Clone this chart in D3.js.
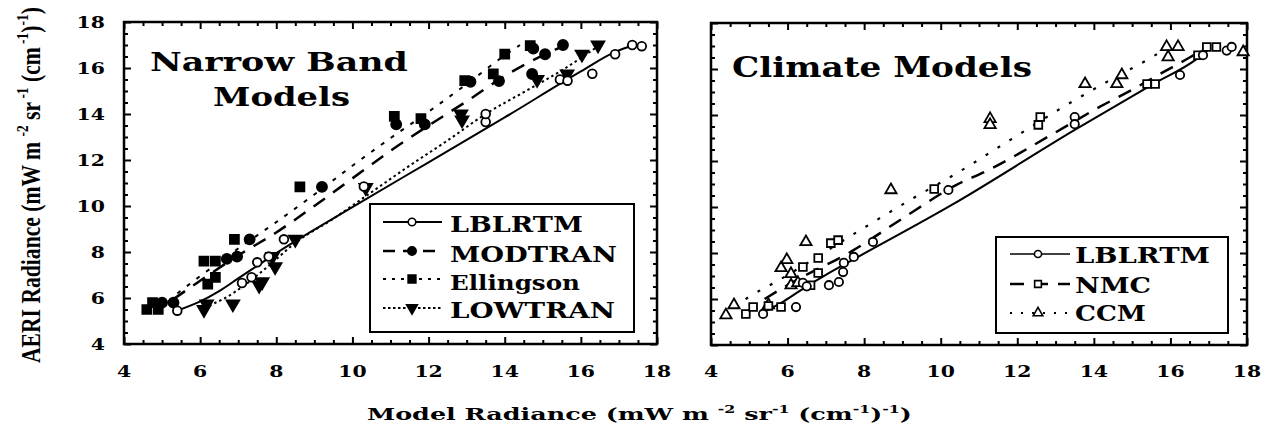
<!DOCTYPE html>
<html><head><meta charset="utf-8">
<script src="https://cdn.jsdelivr.net/npm/d3@7"></script>
<style>
html,body{margin:0;padding:0;background:#fff;}
svg{display:block;}
text{font-family:"DejaVu Serif",serif;font-weight:bold;fill:#000;}
</style></head>
<body>
<svg id="c" width="1278" height="440"></svg>
<script>
// ---------- DATA ----------
const xTicks = [4,6,8,10,12,14,16,18];
const yTicks = [4,6,8,10,12,14,16,18];

// Narrow band models panel (points: [model, AERI])
const nbLblrtm = [[5.4,5.45],[7.1,6.65],[7.35,6.9],[7.5,7.55],[7.8,7.8],[8.2,8.55],[10.3,10.85],[13.5,13.65],[13.5,14.0],[15.45,15.5],[15.65,15.45],[16.3,15.75],[16.9,16.6],[17.35,17.0],[17.6,16.95]];
const nbModtran = [[5.0,5.8],[5.3,5.8],[6.7,7.7],[6.97,7.8],[7.3,8.55],[9.2,10.83],[11.15,13.55],[11.9,13.55],[13.1,15.4],[13.85,15.43],[14.72,15.74],[15.06,16.6],[15.53,17.0],[14.75,16.85]];
const nbEllingson = [[4.6,5.5],[4.75,5.8],[4.9,5.5],[6.1,7.6],[6.4,7.6],[6.2,6.6],[6.4,6.9],[6.9,8.55],[8.62,10.83],[11.1,13.9],[11.8,13.8],[12.95,15.45],[13.7,15.74],[14.0,16.6],[14.67,16.97]];
const nbLowtran = [[6.1,5.5],[6.17,5.74],[6.86,5.74],[7.55,6.55],[7.63,6.7],[7.97,7.36],[7.9,7.8],[8.5,8.55],[10.35,10.8],[12.88,13.74],[12.85,14.0],[14.85,15.5],[15.64,15.74],[16.03,16.6],[16.45,17.0]];

const nbLblrtmFit = [[5.4,5.45],[6.0,5.85],[6.5,6.3],[7.0,6.85],[7.5,7.4],[8,7.95],[10,9.95],[12,11.9],[14,13.85],[16,15.85],[16.9,16.7],[17.4,17.0]];
const nbModtranFit = [[5.3,5.95],[6,6.75],[7,7.85],[8,8.85],[9,10.0],[10,11.2],[11,12.4],[12,13.5],[13,14.55],[14,15.65],[15,16.55],[15.6,17.0]];
const nbEllingsonFit = [[5.4,6.2],[6.0,6.95],[7.0,8.15],[8.0,9.3],[9.0,10.5],[10.0,11.75],[11,12.95],[12,14.1],[13,15.3],[14,16.55],[14.4,17.0]];
const nbLowtranFit = [[6.1,5.6],[6.6,5.95],[7.2,6.6],[7.8,7.4],[8.5,8.4],[9.5,9.45],[10.5,10.6],[11.5,11.75],[12.5,12.85],[13.5,14.0],[14.5,14.95],[15.5,15.9],[16.5,17.0]];

// Climate models panel
const cmLblrtm = [[5.36,5.35],[6.22,5.65],[6.4,6.7],[6.5,6.55],[7.08,6.6],[7.34,6.74],[7.45,7.17],[7.47,7.57],[7.73,7.83],[8.23,8.48],[10.2,10.74],[13.5,13.91],[13.5,13.6],[16.25,15.74],[16.85,16.6],[17.47,16.8],[17.6,16.96]];
const cmNmc = [[4.91,5.35],[5.1,5.65],[5.5,5.7],[5.83,5.65],[6.6,6.6],[6.4,7.39],[6.8,7.78],[6.8,7.13],[7.13,8.43],[7.32,8.56],[9.83,10.78],[12.55,13.57],[12.6,13.91],[15.39,15.35],[15.6,15.35],[16.72,16.6],[16.95,16.96],[17.2,16.96]];
const cmCcm = [[4.39,5.3],[4.6,5.74],[5.5,5.74],[5.83,7.35],[5.98,7.7],[6.09,7.09],[6.09,6.6],[6.27,6.7],[6.48,8.48],[8.7,10.74],[11.29,13.83],[11.29,13.57],[13.77,15.35],[14.6,15.35],[14.73,15.74],[15.9,16.96],[16.2,16.96],[15.94,16.52],[17.9,16.74]];

const cmLblrtmFit = [[5.4,5.45],[5.9,5.9],[6.5,6.55],[7.0,7.05],[7.7,7.7],[10.3,10.1],[13.5,13.35],[15.5,15.3],[16.7,16.45],[17.0,16.85]];
const cmNmcFit = [[5.4,6.0],[6.1,6.7],[7.7,8.1],[9.0,9.5],[10.4,10.95],[11.3,11.65],[12.85,13.1],[14.15,14.35],[15.0,15.1],[15.8,15.85],[16.5,16.5],[16.9,16.9]];
const cmCcmFit = [[4.6,5.65],[5.0,6.1],[5.7,6.75],[7.9,9.0],[9.3,10.4],[10.4,11.45],[11.8,12.9],[13.2,14.35],[14.35,15.45],[15.5,16.5],[15.9,16.9]];

const nbNames = ["LBLRTM","MODTRAN","Ellingson","LOWTRAN"];
const cmNames = ["LBLRTM","NMC","CCM"];

// ---------- DRAW ----------
const svg = d3.select("#c");

function fitText(parent, x, y, target, rot, parts, size, family){
  const g = parent.append("g").attr("transform", `translate(${x},${y})` + (rot ? ` rotate(${rot})` : ""));
  const t = g.append("text").attr("x",0).attr("y",0).style("font-size", size+"px");
  if (family) t.style("font-family", family);
  let shift = 0;
  parts.forEach(p => {
    const s = typeof p === "string" ? {t:p, sup:false} : p;
    const ts = t.append("tspan").text(s.t).attr("xml:space","preserve").style("white-space","pre");
    const want = s.sup ? -size*0.42 : 0;
    ts.attr("dy", want - shift);
    shift = want;
    if (s.sup) ts.style("font-size", (size*0.62)+"px");
  });
  const w = t.node().getBBox().width;
  t.attr("transform", `scale(${target/w},1)`);
  return g;
}

function panel(cfg){
  const x = d3.scaleLinear().domain([4,18]).range([cfg.x0,cfg.x1]);
  const y = d3.scaleLinear().domain([4,18]).range([cfg.y1,cfg.y0]);
  const g = svg.append("g");
  const minor = d3.range(4,18.01,0.5).filter(v => v % 2 !== 0);
  const axes = [
    [d3.axisBottom(x), `translate(0,${cfg.y1})`, xTicks, minor],
    [d3.axisTop(x), `translate(0,${cfg.y0})`, xTicks, minor],
    [d3.axisLeft(y), `translate(${cfg.x0},0)`, yTicks, minor],
    [d3.axisRight(y), `translate(${cfg.x1},0)`, yTicks, minor]
  ];
  axes.forEach(([ax, tr, maj, mn]) => {
    const a1 = g.append("g").attr("transform", tr).call(ax.tickValues(maj).tickSize(-7).tickFormat(""));
    a1.select(".domain").remove();
    const a2 = g.append("g").attr("transform", tr).call(ax.tickValues(mn).tickSize(-4).tickFormat(""));
    a2.select(".domain").remove();
  });
  g.selectAll(".tick line").attr("stroke","#000").attr("stroke-width",2);
  g.append("rect").attr("x",cfg.x0).attr("y",cfg.y0).attr("width",cfg.x1-cfg.x0).attr("height",cfg.y1-cfg.y0)
    .attr("fill","none").attr("stroke","#000").attr("stroke-width",2.5);
  // x tick labels
  xTicks.forEach(v => {
    g.append("text").attr("transform",`translate(${x(v)},377) scale(1.2,1)`).attr("text-anchor","middle")
      .style("font-size","17px").text(v);
  });
  if (cfg.yLabels){
    yTicks.forEach(v => {
      g.append("text").attr("transform",`translate(105,${y(v)+6}) scale(1.2,1)`).attr("text-anchor","end")
        .style("font-size","17px").text(v);
    });
  }
  return {x,y,g};
}

const line = (x,y) => d3.line().x(d=>x(d[0])).y(d=>y(d[1])).curve(d3.curveMonotoneX);

function drawFit(p, data, dash, w){
  p.g.append("path").datum(data).attr("d", line(p.x,p.y)).attr("fill","none")
    .attr("stroke","#000").attr("stroke-width",w).attr("stroke-dasharray",dash);
}
function drawMarks(p, data, type, size, filled, rot){
  const sym = d3.symbol().type(type).size(size);
  p.g.selectAll(null).data(data).enter().append("path")
    .attr("d", sym)
    .attr("transform", d => `translate(${p.x(d[0])},${p.y(d[1])})` + (rot ? ` rotate(${rot})` : ""))
    .attr("fill", filled ? "#000" : "#fff").attr("stroke","#000").attr("stroke-width",1.8);
}

// Left panel
const L = panel({x0:124,x1:657,y0:22,y1:344,yLabels:true});
drawFit(L, nbEllingsonFit, "4,8", 2);
drawFit(L, nbModtranFit, "14,10", 2.5);
drawFit(L, nbLowtranFit, "2.5,3", 2);
drawFit(L, nbLblrtmFit, null, 2);
drawMarks(L, nbEllingson, d3.symbolSquare, 80, true);
drawMarks(L, nbModtran, d3.symbolCircle, 80, true);
drawMarks(L, nbLowtran, d3.symbolTriangle, 70, true, 180);
drawMarks(L, nbLblrtm, d3.symbolCircle, 60, false);

// Right panel
const R = panel({x0:711,x1:1247,y0:23,y1:345,yLabels:false});
drawFit(R, cmCcmFit, "3,11", 2.2);
drawFit(R, cmNmcFit, "14,10", 2.5);
drawFit(R, cmLblrtmFit, null, 2);
drawMarks(R, cmCcm, d3.symbolTriangle, 55, false);
drawMarks(R, cmNmc, d3.symbolSquare, 60, false);
drawMarks(R, cmLblrtm, d3.symbolCircle, 55, false);

// Titles
fitText(svg, 150, 71, 258, 0, ["Narrow Band"], 26);
fitText(svg, 213, 106, 137, 0, ["Models"], 26);
fitText(svg, 732, 77, 300, 0, ["Climate Models"], 27);

// Left legend
svg.append("rect").attr("x",370).attr("y",204).attr("width",264).attr("height",128)
  .attr("fill","#fff").attr("stroke","#000").attr("stroke-width",2);
const nbLeg = [
  {dash:null, w:2, sym:d3.symbolCircle, size:45, filled:false, rot:0, ly:222, ty:232, tw:133, fs:23},
  {dash:"12,8", w:2.5, sym:d3.symbolCircle, size:55, filled:true, rot:0, ly:251, ty:262, tw:167, fs:23},
  {dash:"3,6", w:2, sym:d3.symbolSquare, size:60, filled:true, rot:0, ly:279, ty:290, tw:130, fs:21},
  {dash:"2.5,2.5", w:2, sym:d3.symbolTriangle, size:50, filled:true, rot:180, ly:308, ty:318, tw:165, fs:23}
];
nbLeg.forEach((e,i) => {
  svg.append("line").attr("x1",383).attr("x2",442).attr("y1",e.ly).attr("y2",e.ly)
    .attr("stroke","#000").attr("stroke-width",e.w).attr("stroke-dasharray",e.dash);
  svg.append("path").attr("d", d3.symbol().type(e.sym).size(e.size)())
    .attr("transform",`translate(412,${e.ly}) rotate(${e.rot})`)
    .attr("fill", e.filled ? "#000" : "#fff").attr("stroke","#000").attr("stroke-width",1.6);
  fitText(svg, 450, e.ty, e.tw, 0, [nbNames[i]], e.fs);
});

// Right legend
svg.append("rect").attr("x",996).attr("y",237).attr("width",232).attr("height",96)
  .attr("fill","#fff").attr("stroke","#000").attr("stroke-width",2);
const cmLeg = [
  {dash:null, w:1.5, sym:d3.symbolCircle, size:40, ly:254, ty:263, tw:135},
  {dash:"14,10", w:2.5, sym:d3.symbolSquare, size:45, ly:284, ty:293, tw:76},
  {dash:"2,9", w:2, sym:d3.symbolTriangle, size:40, ly:313, ty:321, tw:71}
];
cmLeg.forEach((e,i) => {
  svg.append("line").attr("x1",1010).attr("x2",1070).attr("y1",e.ly).attr("y2",e.ly)
    .attr("stroke","#000").attr("stroke-width",e.w).attr("stroke-dasharray",e.dash);
  svg.append("path").attr("d", d3.symbol().type(e.sym).size(e.size)())
    .attr("transform",`translate(1038,${e.ly})`)
    .attr("fill","#fff").attr("stroke","#000").attr("stroke-width",1.6);
  fitText(svg, 1075, e.ty, e.tw, 0, [cmNames[i]], 22);
});

// Axis titles
fitText(svg, 367, 420, 545, 0,
  ["Model Radiance (mW m ", {t:"-2",sup:true}, " sr", {t:"-1",sup:true}, " (cm", {t:"-1",sup:true}, ")", {t:"-1",sup:true}, ")"], 17);
fitText(svg, 40, 363, 356, -90,
  ["AERI Radiance (mW m ", {t:"-2",sup:true}, " sr", {t:" -1",sup:true}, " (cm", {t:" -1",sup:true}, ")", {t:"-1",sup:true}, ")"], 28, "'Liberation Serif',serif");
</script>
</body></html>
